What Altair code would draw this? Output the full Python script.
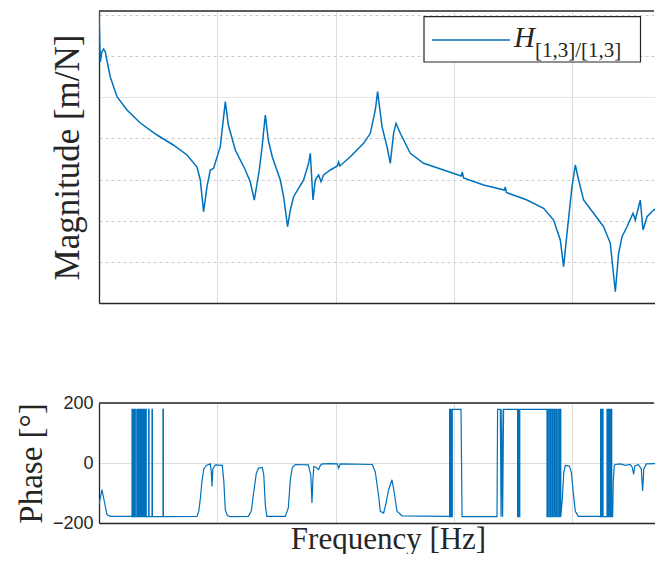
import altair as alt
import pandas as pd

# ---------------- data ----------------
mag_freq = [1.000, 1.026, 1.056, 1.094, 1.131, 1.164, 1.246, 1.420, 1.725, 2.235,
            3.094, 4.250, 5.549, 6.743, 7.189, 7.664, 8.189, 8.735, 9.315, 10.61,
            11.70, 12.41, 14.21, 17.27, 19.03, 20.57, 22.68, 24.04, 25.49, 27.02,
            29.22, 34.14, 36.40, 39.35, 41.48, 44.24, 53.74, 59.24, 61.23, 64.53,
            67.48, 71.95, 75.40, 79.32, 90.38, 103.6, 106.2, 108.7, 133.4, 172.8,
            197.0, 217.1, 227.0, 247.4, 272.6, 290.6, 309.9, 324.8, 353.2, 429.1,
            556.0, 820.6, 1158, 1181, 1211, 1788, 2677, 2729, 2783, 4164,
            5752, 6989, 7963, 8492, 9074, 10000, 10665, 11373, 12535, 15230,
            18508, 21084, 23241, 24784, 26482, 29182, 32810, 34312, 37816, 39848,
            43083, 48982, 63968]
mag_val = [1.183e-3, 7.204e-5, 1.261e-4, 1.492e-4, 1.261e-4, 8.056e-5, 3.112e-5, 1.033e-5, 4.908e-6, 2.370e-6,
           1.211e-6, 6.921e-7, 3.954e-7, 2.020e-7, 9.757e-8, 1.655e-8, 6.708e-8, 1.708e-7, 1.878e-7, 6.293e-7,
           7.809e-6, 2.120e-6, 5.230e-7, 1.708e-7, 8.723e-8, 3.185e-8, 1.708e-7, 6.921e-7, 3.710e-6, 9.155e-7,
           3.535e-7, 9.757e-8, 3.832e-8, 7.148e-9, 1.820e-8, 3.832e-8, 9.757e-8, 2.485e-7, 4.347e-7, 3.185e-8,
           9.757e-8, 1.291e-7, 8.872e-8, 1.291e-7, 1.708e-7, 2.136e-7, 2.673e-7, 2.136e-7, 3.595e-7, 7.608e-7,
           1.332e-6, 4.908e-6, 1.367e-5, 1.927e-6, 6.293e-7, 2.485e-7, 1.332e-6, 2.331e-6, 1.332e-6, 4.347e-7,
           2.485e-7, 1.708e-7, 1.221e-7, 1.527e-7, 1.091e-7, 7.377e-8, 5.576e-8, 6.596e-8, 4.848e-8, 3.185e-8,
           2.002e-8, 1.040e-8, 3.396e-9, 7.617e-10, 4.942e-9, 6.708e-8, 2.259e-7, 9.757e-8, 3.185e-8, 1.513e-8,
           7.148e-9, 2.823e-9, 1.881e-10, 1.613e-9, 4.084e-9, 7.148e-9, 1.513e-8, 1.040e-8, 3.185e-8, 5.943e-9,
           1.251e-8, 1.820e-8, 2.896e-8]

# phase samples (frequency in Hz, phase in degrees), wrapped to +/-180
phase_samples = [
    (1.000, -139), (1.060, -89), (1.131, -145), (1.169, -172), (1.246, -178), (1.876, -178),
    (1.902, -179), (1.902, 179), (1.917, 179), (1.917, -179),
    (1.958, -179), (1.958, 179), (1.974, 179), (1.974, -179),
    (2.012, -179), (2.012, 179), (2.028, 179), (2.028, -179),
    (2.088, -179), (2.088, 179), (2.105, 179), (2.105, -179),
    (2.125, -179), (2.125, 179), (2.142, 179), (2.142, -179),
    (2.163, -179), (2.163, 179), (2.180, 179), (2.180, -179),
    (2.201, -179), (2.201, 179), (2.219, 179), (2.219, -179),
    (2.241, -179), (2.241, 179), (2.258, 179), (2.258, -179),
    (2.280, -179), (2.280, 179), (2.298, 179), (2.298, -179),
    (2.321, -179), (2.321, 179), (2.339, 179), (2.339, -179),
    (2.362, -179), (2.362, 179), (2.381, 179), (2.381, -179),
    (2.404, -179), (2.404, 179), (2.423, 179), (2.423, -179),
    (2.447, -179), (2.447, 179), (2.466, 179), (2.466, -179),
    (2.490, -179), (2.490, 179), (2.510, 179), (2.510, -179),
    (2.630, -179), (2.630, 179), (2.651, 179), (2.651, -179),
    (2.808, -179), (2.808, 179), (2.830, 179), (2.830, -179),
    (3.475, -179), (3.475, 179), (3.503, 179), (3.503, -179),
    (6.743, -178), (6.983, -160), (7.189, -120), (7.431, -60), (7.696, -20), (8.081, -8),
    (8.735, -3), (8.906, -30), (9.029, -78), (9.170, -20), (9.627, -6), (11.03, -8),
    (11.36, -60), (11.70, -156), (12.16, -175), (12.90, -179),
    (18.31, -178), (19.41, -160), (20.30, -100), (21.39, -35), (22.37, -17), (24.04, -15),
    (24.75, -40), (25.49, -140), (26.24, -178),
    (37.63, -178), (39.89, -150), (41.48, -56), (43.13, -15), (45.71, -5), (58.88, -6),
    (61.80, -40), (63.26, -133), (64.28, -60), (65.55, -12), (68.80, -15), (71.95, -22),
    (74.37, -8), (77.33, -3), (90.38, -2), (103.6, -3), (106.2, -17), (109.8, -3),
    (204.8, -5), (217.1, -30), (231.5, -110), (239.3, -161), (255.2, -167), (268.9, -130),
    (281.2, -89), (300.5, -56), (314.3, -100), (331.2, -161), (365.1, -176), (899.4, -178),
    (922.4, -179), (922.4, 179), (931.4, 179), (931.4, -179),
    (946.0, -179), (946.0, 179), (959.0, 179), (959.0, -179),
    (972.2, -179), (972.2, 179), (1152, 179), (1175, -179),
    (2321, -179), (2348, 179), (2475, 179), (2514, -179), (2549, 179), (2589, -179), (2639, 179),
    (3466, 179), (3466, -179), (3500, -179), (3500, 179),
    (3583, 179), (3583, -179), (3618, -179), (3618, 179),
    (6144, 179), (6144, -179), (6204, -179), (6204, 179),
    (6363, 179), (6363, -179), (6426, -179), (6426, 179),
    (6590, 179), (6590, -179), (6655, -179), (6655, 179),
    (6826, 179), (6826, -179), (6893, -179), (6893, 179),
    (7070, 179), (7070, -179), (7139, -179), (7139, 179),
    (7322, 179), (7322, -179), (7393, -179), (7393, 179),
    (7583, 179), (7583, -179), (7657, -179), (7657, 179),
    (7853, 179), (7853, -179), (7930, -179), (7930, 179),
    (8039, 179), (8039, -179),
    (8278, -120), (8524, -30), (8777, -8), (9489, -10), (9865, -30), (10257, -100),
    (10665, -161), (11307, -178), (16692, -178),
    (17457, -179), (17457, 179), (17594, 179), (17594, -179),
    (17870, -179), (17870, 179), (18009, 179), (18009, -179),
    (18150, -179), (18150, 179), (18292, 179), (18292, -179),
    (19774, -179), (19774, 179), (19928, 179), (19928, -179),
    (20202, -179), (20202, 179), (20364, 179), (20364, -179),
    (20679, -179), (20679, 179), (20841, 179), (20841, -179),
    (21094, -179), (21094, 179), (21251, 179), (21251, -179),
    (21500, -179), (21500, 179), (21679, 179), (21679, -179),
    (22064, -179), (22354, -60), (22794, -8), (23241, -5), (25620, -3), (28229, -8),
    (31122, -5), (32357, -15), (33187, -38), (33971, -10), (36371, -5), (38553, -20),
    (39541, -93), (40476, -20), (42499, -3), (50630, -2), (63968, 2),
]

x_grid = [1, 10, 100, 1000, 10000]
mag_grid = [1e-10, 1e-9, 1e-8, 1e-7, 1e-6, 1e-5, 1e-4, 1e-3]
phase_ticks = [-200, 0, 200]
legend_label_main = "H"
legend_label_sub = "[1,3]/[1,3]"

# ---------------- styling ----------------
W = 556
DECADE_PX = 118.25
X_DOMAIN = [1, 10 ** (W / DECADE_PX)]
MAG_DOMAIN = [1e-10, 1.25e-3]
H_MAG = 292
H_PH = 120
LINE = "#0072BD"
AX = "#262626"
SERIF = "Liberation Serif"
SANS = "Liberation Sans"

mag_df = pd.DataFrame({"freq": mag_freq, "mag": mag_val})
mag_df["i"] = range(len(mag_df))
ph_df = pd.DataFrame(phase_samples, columns=["freq", "phase"])
ph_df["i"] = range(len(ph_df))
dummy = alt.Data(values=[{}])

x_scale = alt.Scale(type="log", domain=X_DOMAIN, nice=False)
major = "abs(log(datum.value)/LN10 + 5) < 0.01"

mag_line = alt.Chart(mag_df).mark_line(color=LINE, strokeWidth=1.5, clip=True).encode(
    x=alt.X("freq:Q", scale=x_scale,
            axis=alt.Axis(values=x_grid, labels=False, ticks=False, title=None, grid=True, minExtent=0)),
    y=alt.Y("mag:Q", scale=alt.Scale(type="log", domain=MAG_DOMAIN, nice=False),
            axis=alt.Axis(values=mag_grid, labels=False, ticks=False, grid=True,
                          title="Magnitude [m/N]", titlePadding=14, titleFontSize=35,
                          gridDash={"condition": {"test": major, "value": [1, 0]}, "value": [3, 3]},
                          gridColor={"condition": {"test": major, "value": "#dcdcdc"}, "value": "#cdcdcd"})),
    order="i:Q",
)

top_rule = alt.Chart(dummy).mark_rule(color=AX, strokeWidth=1.3).encode(
    x=alt.value(0), x2=alt.value(W - 1), y=alt.value(0))
leg_box = alt.Chart(dummy).mark_rect(fill="white", stroke=AX, strokeWidth=1.2).encode(
    x=alt.value(325), x2=alt.value(541.5), y=alt.value(5.7), y2=alt.value(51))
leg_line = alt.Chart(dummy).mark_rule(color=LINE, strokeWidth=1.5).encode(
    x=alt.value(333), x2=alt.value(411), y=alt.value(29))
leg_h = alt.Chart(dummy).mark_text(text=legend_label_main, font=SERIF, fontStyle="italic", fontSize=29,
                                   align="left", baseline="alphabetic", color=AX).encode(
    x=alt.value(415), y=alt.value(35.7))
leg_sub = alt.Chart(dummy).mark_text(text=legend_label_sub, font=SERIF, fontSize=21,
                                     align="left", baseline="alphabetic", color=AX).encode(
    x=alt.value(436), y=alt.value(45.7))

top = alt.layer(mag_line, top_rule, leg_box, leg_line, leg_h, leg_sub).properties(width=W, height=H_MAG)

ph_line = alt.Chart(ph_df).mark_line(color=LINE, strokeWidth=1.2, clip=True).encode(
    x=alt.X("freq:Q", scale=x_scale,
            axis=alt.Axis(values=x_grid, labels=False, ticks=False, grid=True,
                          title="Frequency [Hz]", titlePadding=1, titleX=289, titleAlign="center",
                          titleFontSize=31)),
    y=alt.Y("phase:Q", scale=alt.Scale(domain=[-200, 200], nice=False, zero=False),
            axis=alt.Axis(values=phase_ticks, grid=True, ticks=False, labelPadding=6,
                          title="Phase [°]", titlePadding=4)),
    order="i:Q",
)
bot_rule = alt.Chart(dummy).mark_rule(color=AX, strokeWidth=1.3).encode(
    x=alt.value(0), x2=alt.value(W - 1), y=alt.value(0))

bottom = alt.layer(ph_line, bot_rule).properties(width=W, height=H_PH)

chart = alt.vconcat(top, bottom, spacing=91).properties(
    padding={"left": 7, "top": 2, "right": 0, "bottom": 0}
).configure_view(stroke=None).configure_axis(
    domainColor=AX, domainWidth=1.3, gridColor="#dcdcdc", gridWidth=1,
    labelFont=SANS, labelFontSize=18, labelColor=AX,
    titleFont=SERIF, titleFontSize=33, titleFontWeight="normal", titleColor=AX,
)

chart.save("out.html", embed_options={"renderer": "svg", "actions": False})
